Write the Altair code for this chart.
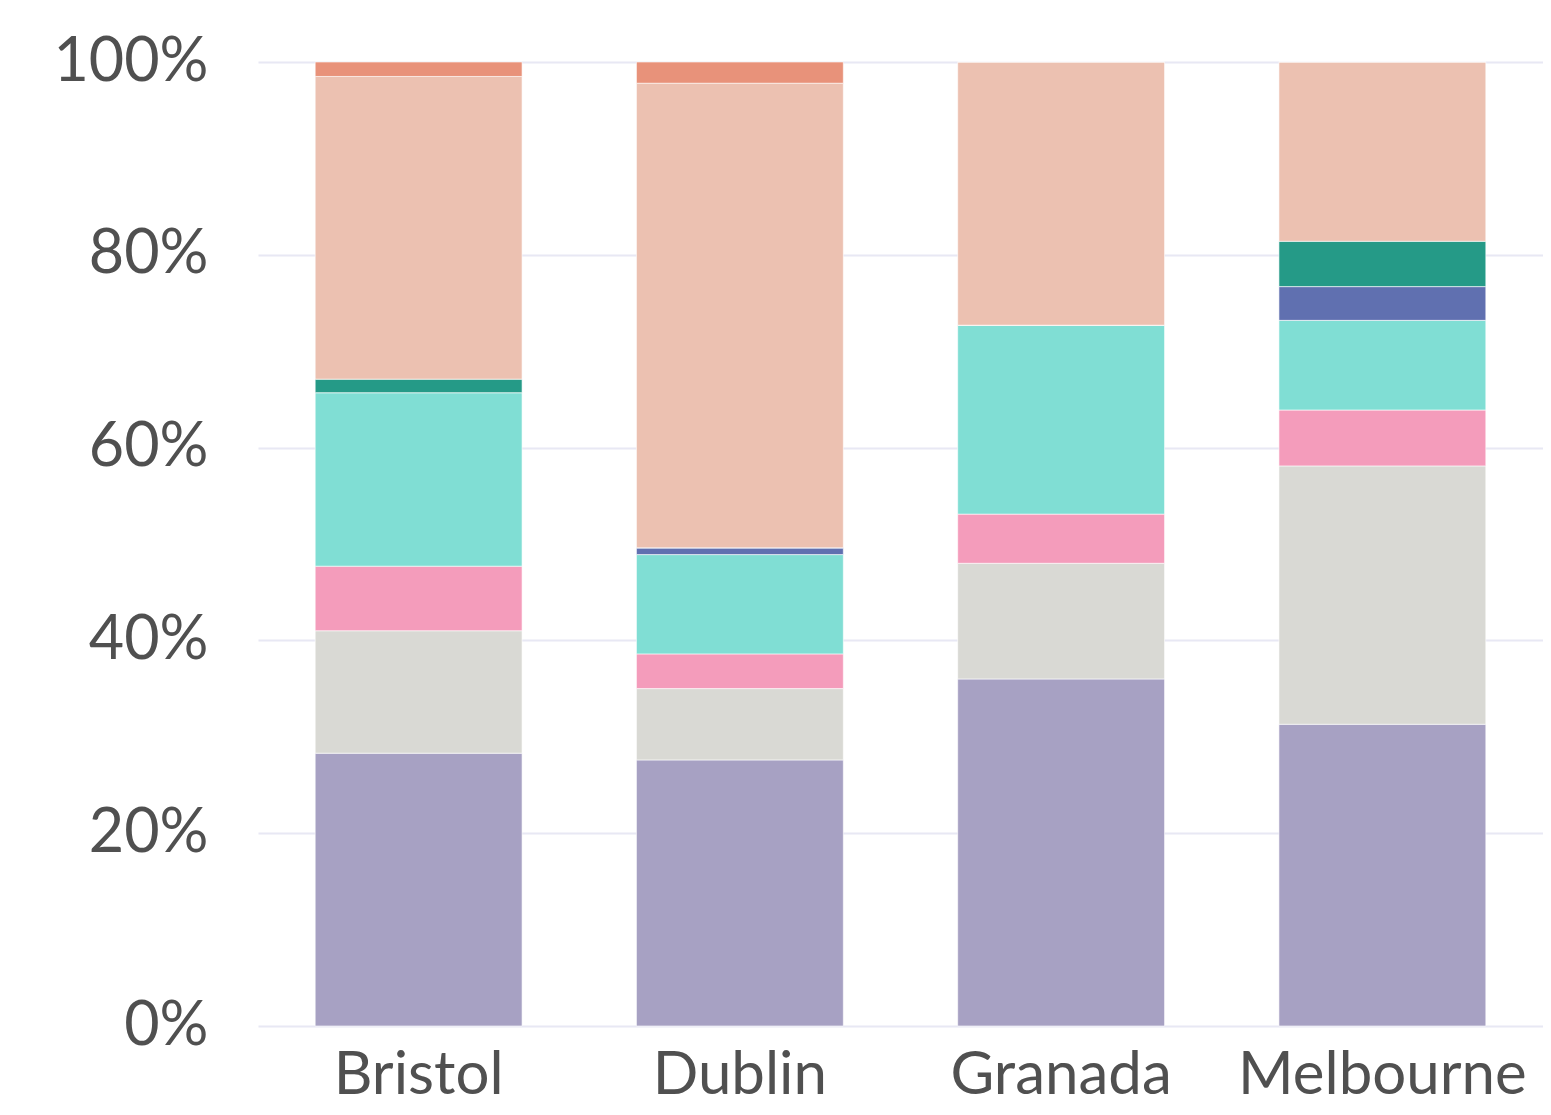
import altair as alt
import pandas as pd

cities = ["Bristol", "Dublin", "Granada", "Melbourne"]
categories = ["Cat A", "Cat B", "Cat C", "Cat D", "Cat E", "Cat F", "Cat G", "Cat H"]
colors = ["#a7a1c3", "#d9d9d4", "#f49cbb", "#80ded4", "#6070b0", "#259a87", "#ecc1b1", "#e8927a"]

bristol = [28.3, 12.7, 6.7, 18.0, 0.0, 1.4, 31.4, 1.5]
dublin = [27.6, 7.4, 3.6, 10.3, 0.7, 0.0, 48.2, 2.2]
granada = [36.0, 12.0, 5.1, 19.6, 0.0, 0.0, 27.3, 0.0]
melbourne = [31.3, 26.8, 5.8, 9.3, 3.5, 4.7, 18.6, 0.0]

rows = []
for city, vals in zip(cities, [bristol, dublin, granada, melbourne]):
    for i, (cat, v) in enumerate(zip(categories, vals)):
        rows.append({"city": city, "category": cat, "value": v, "order": i})
df = pd.DataFrame(rows)

FONT = "Lato"
TXT = "#505050"

chart = alt.Chart(df).mark_bar(stroke="white", strokeWidth=0.6).encode(
    x=alt.X("city:N", sort=cities,
            scale=alt.Scale(paddingInner=0.356, paddingOuter=0.178),
            axis=alt.Axis(title=None, labelAngle=0, ticks=False, domain=False,
                          labelFontSize=60, labelFont=FONT, labelColor=TXT,
                          labelPadding=20, grid=False, labelLimit=0, labelOverlap=False)),
    y=alt.Y("value:Q", stack="normalize",
            scale=alt.Scale(domain=[0, 1]),
            axis=alt.Axis(title=None, format="%", values=[0, 0.2, 0.4, 0.6, 0.8, 1.0],
                          ticks=False, domain=False, labelFontSize=61, labelFont=FONT,
                          labelColor=TXT, labelPadding=50, gridColor="#e8e8f4", gridWidth=2,
                          labelOverlap=False, labelLimit=0)),
    color=alt.Color("category:N", scale=alt.Scale(domain=categories, range=colors), legend=None),
    order=alt.Order("order:Q", sort="ascending"),
).properties(
    width=1285, height=964,
    autosize=alt.AutoSizeParams(type="none"),
    padding={"left": 250, "top": 54, "right": 0, "bottom": 81},
).configure_view(stroke=None)

chart.save("out.html", embed_options={"renderer": "svg", "actions": False})
